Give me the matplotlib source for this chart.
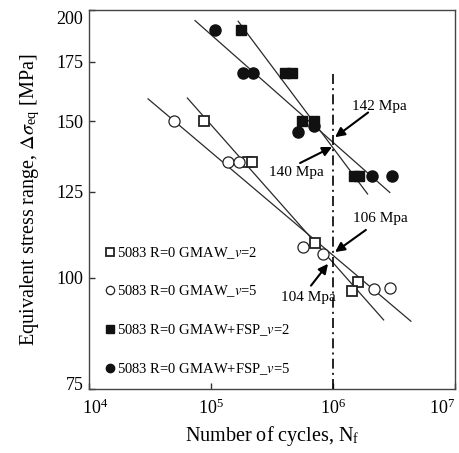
import numpy as np
import matplotlib
matplotlib.use("Agg")
import matplotlib.pyplot as plt
from matplotlib.transforms import ScaledTranslation
from matplotlib.ticker import FixedLocator, FixedFormatter, NullLocator, LogFormatterSciNotation

plt.rcParams['font.family'] = ['Liberation Serif', 'DejaVu Serif']
plt.rcParams['mathtext.fontset'] = 'stix'

# --- data -------------------------------------------------------------
# GMAW, v=2 (open squares)
n_gmaw_v2 = [8.8e4, 2.0e5, 2.17e5, 7.1e5, 1.6e6, 1.43e6]
s_gmaw_v2 = [150, 135, 135, 109.4, 99.0, 96.7]
# GMAW, v=5 (open circles)
n_gmaw_v5 = [5.0e4, 1.38e5, 1.70e5, 5.7e5, 8.3e5, 2.17e6, 2.93e6]
s_gmaw_v5 = [150, 135, 135, 108.4, 106.5, 97.2, 97.5]
# GMAW+FSP, v=2 (filled squares)
n_fsp_v2 = [1.76e5, 4.05e5, 4.62e5, 5.57e5, 6.98e5, 1.49e6, 1.63e6]
s_fsp_v2 = [190, 170, 170, 150, 150, 130, 130]
# GMAW+FSP, v=5 (filled circles)
n_fsp_v5 = [1.08e5, 1.83e5, 2.21e5, 5.17e5, 6.98e5, 2.09e6, 3.05e6]
s_fsp_v5 = [190, 170, 170, 145.9, 148.2, 130, 130]

series_labels = [
    '5083 R=0 GMAW_$v$=2',
    '5083 R=0 GMAW_$v$=5',
    '5083 R=0 GMAW+FSP_$v$=2',
    '5083 R=0 GMAW+FSP_$v$=5',
]

# S-N fits: stress at 1e6 cycles, slope exponent, fitted range of cycles
fit_s_at_1e6 = [104, 106, 140, 142]
fit_exponent = [-0.155, -0.116, -0.183, -0.121]
fit_n_start = [6.4e4, 3.05e4, 1.67e5, 7.4e4]
fit_n_end = [2.6e6, 4.35e6, 1.92e6, 2.92e6]

ref_cycles = 1e6
ref_line_top = 170

xticks = [1e4, 1e5, 1e6, 1e7]
yticks = [75, 100, 125, 150, 175, 200]

# --- figure -----------------------------------------------------------
fig = plt.figure(figsize=(4.59, 4.53), dpi=100)
ax = fig.add_axes([89/459, 1-389/453, (455-89)/459, (389-10)/453])
ax.set_xscale('log')
ax.set_yscale('log')
ax.set_xlim(1e4, 1e7)
ax.set_ylim(75, 200)

line_color = '#2a2a2a'
for s6, b, n0, n1 in zip(fit_s_at_1e6, fit_exponent, fit_n_start, fit_n_end):
    n = np.array([n0, n1])
    s = s6 * (n / ref_cycles) ** b
    ax.plot(n, s, color=line_color, lw=0.9, zorder=2)

ax.plot([ref_cycles, ref_cycles], [75, ref_line_top], color='black', lw=1.2,
        linestyle=(0, (6, 2.5, 1.2, 2.5)), zorder=2)

ms = 7.5
ax.plot(n_gmaw_v2, s_gmaw_v2, 's', mfc='white', mec='#222222', mew=1.3, ms=ms,
        linestyle='none', label=series_labels[0], zorder=3)
ax.plot(n_gmaw_v5, s_gmaw_v5, 'o', mfc='white', mec='#222222', mew=0.9, ms=ms+0.5,
        linestyle='none', label=series_labels[1], zorder=3)
ax.plot(n_fsp_v2, s_fsp_v2, 's', mfc='#111111', mec='#111111', mew=1, ms=ms,
        linestyle='none', label=series_labels[2], zorder=3)
ax.plot(n_fsp_v5, s_fsp_v5, 'o', mfc='#111111', mec='#111111', mew=1, ms=ms+0.5,
        linestyle='none', label=series_labels[3], zorder=3)

# labels of the fatigue strength at 1e6 cycles
arrow_kw = dict(arrowstyle='-|>', color='black', lw=1.5, mutation_scale=14,
                shrinkA=0, shrinkB=0)
notes = [
    (f'{fit_s_at_1e6[3]} Mpa', (2.38e6, 156.0), (1.94e6, 153.4), (1.04e6, 143.9)),
    (f'{fit_s_at_1e6[2]} Mpa', (4.98e5, 131.2), (5.37e5, 134.6), (9.82e5, 140.3)),
    (f'{fit_s_at_1e6[1]} Mpa', (2.43e6, 116.5), (1.86e6, 113.2), (1.04e6, 106.9)),
    (f'{fit_s_at_1e6[0]} Mpa', (6.24e5, 95.1), (6.6e5, 98.0), (9.1e5, 103.7)),
]
for txt, tpos, tail, tip in notes:
    ax.text(*tpos, txt, ha='center', va='center', fontsize=11, zorder=4)
    ax.annotate('', xy=tip, xytext=tail, arrowprops=arrow_kw, zorder=4)

# axes styling
ax.yaxis.set_major_locator(FixedLocator(yticks))
ax.yaxis.set_major_formatter(FixedFormatter([str(v) for v in yticks]))
ax.yaxis.set_minor_locator(NullLocator())
ax.xaxis.set_major_locator(FixedLocator(xticks))
ax.xaxis.set_major_formatter(LogFormatterSciNotation())
ax.xaxis.set_minor_locator(NullLocator())
ax.tick_params(axis='both', direction='in', length=4, width=1, color='#333333',
               labelsize=13, top=False, right=False)
ax.tick_params(axis='y', pad=4)
ax.tick_params(axis='x', pad=7)
for sp in ax.spines.values():
    sp.set_color('#444444')
    sp.set_linewidth(1.0)

ax.set_xlabel('Number of cycles, N$_\\mathregular{f}$', fontsize=14.5, labelpad=4)
ax.set_ylabel('Equivalent stress range, $\\Delta\\sigma_{\\mathregular{eq}}$ [MPa]',
              fontsize=14.5, labelpad=10)

leg = ax.legend(loc='upper left', bbox_to_anchor=(0.045, 0.38), frameon=False,
                fontsize=10.5, handlelength=0.6, handletextpad=0.2,
                labelspacing=1.57, markerscale=0.75, borderpad=0, borderaxespad=0)

# nudge the outermost tick labels so they stay inside the figure
fig.canvas.draw()
px = 1 / fig.dpi
xlabels = ax.get_xticklabels()
xlabels[0].set_transform(xlabels[0].get_transform() + ScaledTranslation(6 * px, 0, fig.dpi_scale_trans))
xlabels[-1].set_transform(xlabels[-1].get_transform() + ScaledTranslation(-13 * px, 0, fig.dpi_scale_trans))
ylabels = ax.get_yticklabels()
ylabels[0].set_transform(ylabels[0].get_transform() + ScaledTranslation(0, 6 * px, fig.dpi_scale_trans))
ylabels[-1].set_transform(ylabels[-1].get_transform() + ScaledTranslation(0, -7 * px, fig.dpi_scale_trans))

fig.savefig('out.png', dpi=100)
